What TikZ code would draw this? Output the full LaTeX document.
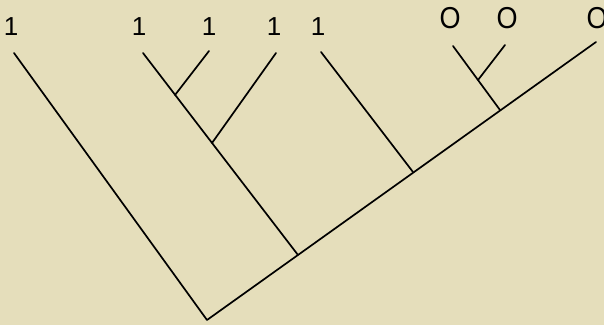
\documentclass[tikz,border=0pt]{standalone}
\usepackage{fontspec}
\usepackage{graphicx}
\setmainfont{Liberation Sans}
\definecolor{bg}{RGB}{229,222,187}
\begin{document}
\begin{tikzpicture}[x=1pt,y=-1pt,
  edge/.style={draw=black,line width=1.7pt,line cap=round,line join=round},
  lbl/.style={inner sep=0pt,font=\fontsize{26}{26}\selectfont},
  olbl/.style={inner sep=0pt,font=\fontsize{27}{27}\selectfont}]
\fill[bg] (0,0) rectangle (604,325);
\useasboundingbox (0,0) rectangle (604,325);
% internal points
\coordinate (R) at (207,320);
\coordinate (A) at (298,255);
\coordinate (B) at (212,143);
\coordinate (C) at (175,95);
\coordinate (D) at (413,172);
\coordinate (E) at (500,110);
\coordinate (F) at (478,80);
% leaf tips
\coordinate (L1) at (14,53);
\coordinate (L2) at (143,53);
\coordinate (L3) at (209,51);
\coordinate (L4) at (276,53);
\coordinate (L5) at (321,52);
\coordinate (L6) at (453,46);
\coordinate (L7) at (505,45);
\coordinate (L8) at (596,42);
% edges
\draw[edge] (L1) -- (R) -- (L8);
\draw[edge] (A) -- (L2);
\draw[edge] (B) -- (L4);
\draw[edge] (C) -- (L3);
\draw[edge] (D) -- (L5);
\draw[edge] (E) -- (L6);
\draw[edge] (F) -- (L7);
% labels
\node[lbl] (t1) at (11,27) {1};
\node[lbl] (t2) at (139,27) {1};
\node[lbl] (t3) at (209,27) {1};
\node[lbl] (t4) at (274,27) {1};
\node[lbl] (t5) at (318,27) {1};
\node[olbl] (t6) at (450,18) {\scalebox{1}[1.12]{O}};
\node[olbl] (t7) at (507,18) {\scalebox{1}[1.12]{O}};
\node[olbl] (t8) at (597,18) {\scalebox{1}[1.12]{O}};
\end{tikzpicture}
\end{document}
